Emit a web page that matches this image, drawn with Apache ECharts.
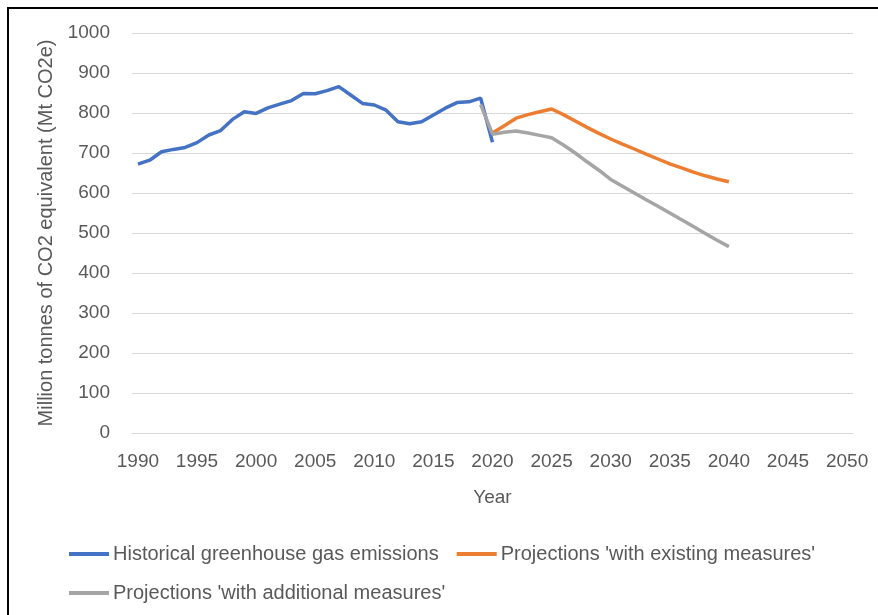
<!DOCTYPE html>
<html>
<head>
<meta charset="utf-8">
<script src="https://cdn.jsdelivr.net/npm/echarts@6/dist/echarts.min.js"></script>
<style>
  html, body { margin: 0; padding: 0; background: #fff; }
  #chart { width: 878px; height: 615px; }
</style>
</head>
<body>
<div id="chart"></div>
<script>
// 年份类别 1990-2050
const years = [];
for (let y = 1990; y <= 2050; y++) years.push(String(y));

// 历史排放 1990-2020
const historical = [672, 682, 703, 709, 714, 726, 745, 756, 784, 803, 799, 813, 822, 831, 849, 848,
  856, 866, 845, 824, 820, 807, 778, 773, 778, 795, 812, 826, 828, 837, 727];
// 现有措施预测 2020-2040
const existingStart = '2020';
const existing = [750, 768, 787, 796, 803, 810, 796, 780, 764, 749, 735, 722, 710, 697, 685, 673,
  663, 652, 643, 635, 628];
// 附加措施预测 2019-2040
const additionalStart = '2019';
const additional = [821, 747, 752, 755, 750, 744, 738, 720, 700, 678, 657, 634, 617, 600, 583, 567,
  550, 533, 516, 499, 482, 466];

const yTicks = [0, 100, 200, 300, 400, 500, 600, 700, 800, 900, 1000];

const names = [
  'Historical greenhouse gas emissions',
  "Projections 'with existing measures'",
  "Projections 'with additional measures'"
];

// 按年份对齐数据
function align(values, start) {
  const offset = years.indexOf(start);
  return years.map((y, i) => {
    const v = values[i - offset];
    return v === undefined ? null : v;
  });
}

const font = 'Liberation Sans, Arial, sans-serif';
const textColor = '#595959';

const chart = echarts.init(document.getElementById('chart'));

const legendBase = {
  orient: 'horizontal',
  icon: 'rect',
  itemWidth: 40,
  itemHeight: 4,
  itemGap: 18,
  textStyle: { fontFamily: font, fontSize: 20, color: textColor, padding: [0, 0, 0, -1] }
};

chart.setOption({
  animation: false,
  color: ['#4472C4', '#ED7D31', '#A5A5A5'],
  graphic: [{
    type: 'rect',
    shape: { x: 8, y: 8, width: 1000, height: 1000 },
    style: { fill: 'none', stroke: '#000', lineWidth: 2 }
  }],
  grid: { left: 132, right: 25, top: 33, bottom: 182 },
  legend: [
    Object.assign({}, legendBase, { left: 64, top: 539, data: [names[0], names[1]] }),
    Object.assign({}, legendBase, { left: 64, top: 578, data: [names[2]] })
  ],
  xAxis: {
    type: 'category',
    data: years,
    boundaryGap: true,
    name: 'Year',
    nameLocation: 'middle',
    nameGap: 55,
    nameTextStyle: { fontFamily: font, fontSize: 19, color: textColor },
    axisLine: { show: true, lineStyle: { color: '#d9d9d9', width: 1 } },
    axisTick: { show: false },
    axisLabel: {
      interval: 4,
      margin: 19,
      fontFamily: font,
      fontSize: 19,
      color: textColor
    }
  },
  yAxis: {
    type: 'value',
    min: yTicks[0],
    max: yTicks[yTicks.length - 1],
    interval: 100,
    name: 'Million tonnes of CO2 equivalent (Mt CO2e)',
    nameLocation: 'middle',
    nameGap: 76,
    nameTextStyle: { fontFamily: font, fontSize: 20, color: textColor },
    axisLine: { show: false },
    axisTick: { show: false },
    splitLine: { lineStyle: { color: '#d9d9d9', width: 1 } },
    axisLabel: {
      margin: 22,
      fontFamily: font,
      fontSize: 19,
      color: textColor,
      formatter: v => String(v)
    }
  },
  series: [
    { name: names[0], type: 'line', data: align(historical, '1990') },
    { name: names[1], type: 'line', data: align(existing, existingStart) },
    { name: names[2], type: 'line', data: align(additional, additionalStart) }
  ].map(s => Object.assign(s, {
    showSymbol: false,
    connectNulls: false,
    lineStyle: { width: 3.5 }
  }))
});
</script>
</body>
</html>
